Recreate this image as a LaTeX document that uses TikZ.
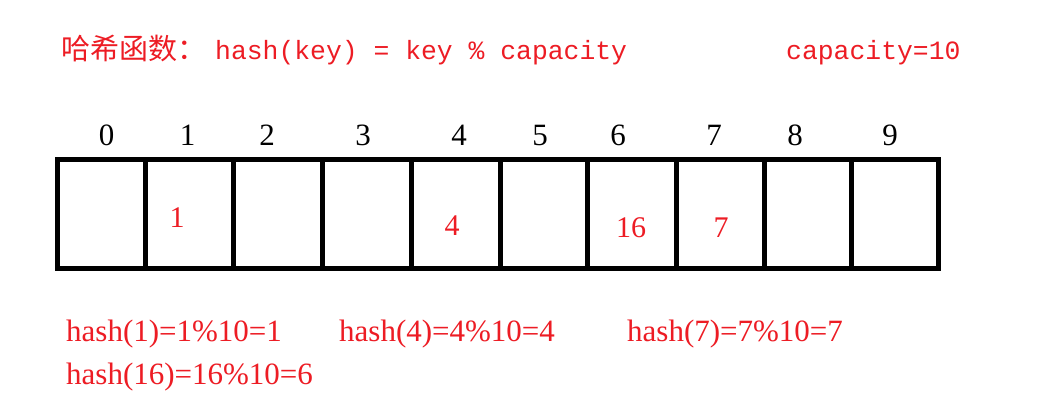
\documentclass[tikz,border=0pt]{standalone}
\usepackage{fontspec}
\setmainfont{Liberation Serif}
\newfontfamily\cjkfont{Noto Sans CJK SC}
\newfontfamily\monofont{Liberation Mono}
\definecolor{hred}{RGB}{237,28,36}
\begin{document}
\begin{tikzpicture}[x=1pt,y=-1pt,
  cell/.style={draw=black, line width=5pt, rectangle, inner sep=0pt, outer sep=0pt, minimum height=108.5pt},
  idx/.style={anchor=base, inner sep=0pt, text=black, font=\fontsize{31}{31}\selectfont},
  val/.style={anchor=base, inner sep=0pt, text=hred, font=\fontsize{30}{30}\selectfont},
  formula/.style={anchor=base west, inner sep=0pt, text=hred, font=\fontsize{31}{31}\selectfont},
  mono/.style={anchor=base west, inner sep=0pt, text=hred, font=\fontsize{26.4}{26.4}\selectfont\monofont},
  cjk/.style={anchor=base west, inner sep=0pt, text=hred, font=\fontsize{29}{29}\selectfont\cjkfont}]
\useasboundingbox[fill=white] (0,0) rectangle (1057,410);
% title
\node[cjk] (tcjk) at (61,59) {哈希函数：};
\node[mono] (tform) at (215,59) {hash(key) = key \% capacity};
\node[mono] (tcap) at (786,59) {capacity=10};
% array cells
\foreach \i/\l/\r in {0/57.5/145,1/145/233.5,2/233.5/322,3/322/411,4/411/500,5/500/587,6/587/676,7/676/764,8/764/851,9/851/938}{
  \pgfmathsetmacro{\w}{\r-\l}
  \pgfmathsetmacro{\cx}{(\l+\r)/2}
  \node[cell, minimum width=\w pt] (c\i) at (\cx,213.75) {};
}
% indices
\foreach \i/\x in {0/106.7,1/187.5,2/267,3/363,4/459,5/540,6/618,7/714,8/795,9/890}{
  \node[idx] (n\i) at (\x,145) {\i};
}
% values
\node[val] (v1) at (177,227) {1};
\node[val] (v4) at (452,235) {4};
\node[val] (v16) at (631,237) {16};
\node[val] (v7) at (721,237) {7};
% formulas
\node[formula] (f1) at (66,341) {hash(1)=1\%10=1};
\node[formula] (f4) at (339,341) {hash(4)=4\%10=4};
\node[formula] (f7) at (627,341) {hash(7)=7\%10=7};
\node[formula] (f16) at (66,384) {hash(16)=16\%10=6};
\end{tikzpicture}
\end{document}
